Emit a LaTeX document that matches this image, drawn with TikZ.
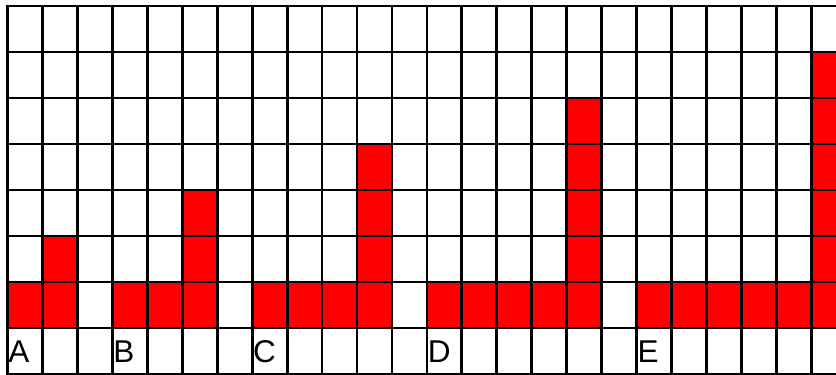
\documentclass[tikz,border=0pt]{standalone}
\usepackage{fontspec}
\setmainfont{Liberation Sans}
\begin{document}
\begin{tikzpicture}[x=1pt,y=-1pt,
  gridline/.style={draw=black,line width=2.8pt,line cap=rect},
  redcell/.style={fill=red},
  lbl/.style={anchor=base west,inner sep=0pt,font=\fontsize{31.5}{31.5}\selectfont}]
\def\cw{34.95}
\def\rh{46}
\def\xo{7.5}
\def\yo{6}
\useasboundingbox (0,0) rectangle (836,375);
\begin{scope}
\clip (0,0) rectangle (836,375);
% red cells (column, row from top)
\foreach \c/\r in {0/6,1/6,1/5,
  3/6,4/6,5/6,5/5,5/4,
  7/6,8/6,9/6,10/6,10/5,10/4,10/3,
  12/6,13/6,14/6,15/6,16/6,16/5,16/4,16/3,16/2,
  18/6,19/6,20/6,21/6,22/6,23/6,23/5,23/4,23/3,23/2,23/1}
  \fill[redcell] ({\xo+\cw*\c},{\yo+\rh*\r}) rectangle +(\cw,\rh);
% grid
\foreach \i in {0,...,24}
  \draw[gridline] ({\xo+\cw*\i},\yo) -- ({\xo+\cw*\i},{\yo+8*\rh});
\foreach \j in {0,...,8}
  \draw[gridline] (\xo,{\yo+\rh*\j}) -- ({\xo+\cw*24},{\yo+\rh*\j});
\end{scope}
% labels
\node[lbl] (lA) at ({\xo+\cw*0+0.8},362.5) {A};
\node[lbl] (lB) at ({\xo+\cw*3+0.8},362.5) {B};
\node[lbl] (lC) at ({\xo+\cw*7+0.8},362.5) {C};
\node[lbl] (lD) at ({\xo+\cw*12+0.8},362.5) {D};
\node[lbl] (lE) at ({\xo+\cw*18+0.8},362.5) {E};
\end{tikzpicture}
\end{document}
